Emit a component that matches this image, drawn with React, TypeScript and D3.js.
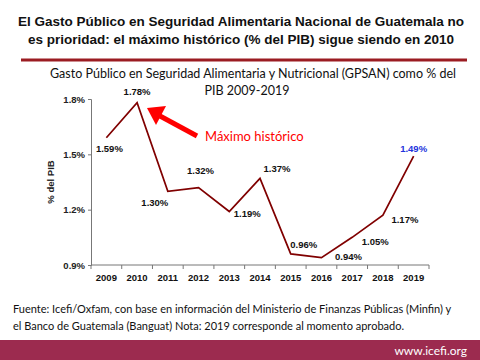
import React from 'react';
import * as d3 from 'd3';

const width = 480;
const height = 360;
const margin = {top: 99, right: 51, bottom: 95, left: 91};
const maroon = '#800000';
const headRed = '#9b1c22';
const band = '#9c2b4f';

const years = ['2009', '2010', '2011', '2012', '2013', '2014', '2015', '2016', '2017', '2018', '2019'];
const gpsan = [1.59, 1.78, 1.30, 1.32, 1.19, 1.37, 0.96, 0.94, 1.05, 1.17, 1.49];
const yTicks = [0.9, 1.2, 1.5, 1.8];
// where each value label sits relative to its point
const labelOffsets = [[3, 14], [0, -8], [-13, 15], [2, -14], [18, 5], [17, -6], [13, -6], [27, 2], [23, 8], [22, 8], [0, -4]];

const titleLines = [
  'El Gasto Público en Seguridad Alimentaria Nacional de Guatemala no',
  'es prioridad: el máximo histórico (% del PIB) sigue siendo en 2010',
];
const subtitleLines = [
  'Gasto Público en Seguridad Alimentaria y Nutricional (GPSAN) como % del',
  'PIB 2009-2019',
];
const sourceLines = [
  'Fuente: Icefi/Oxfam, con base en información del Ministerio de Finanzas Públicas (Minfin) y',
  'el Banco de Guatemala (Banguat) Nota: 2019 corresponde al momento aprobado.',
];

const bodyFont = 'Lato, "Open Sans", sans-serif';
const chartFont = '"Liberation Sans", Arial, sans-serif';

export default function App() {
  const xAxisRef = React.useRef<SVGGElement>(null);
  const yAxisRef = React.useRef<SVGGElement>(null);

  const xScale = d3.scaleBand().domain(years).range([margin.left, width - margin.right]);
  const yScale = d3.scaleLinear().domain([0.9, 1.8]).range([height - margin.bottom, margin.top]);
  const cx = (y: string) => (xScale(y) as number) + xScale.bandwidth() / 2;

  const line = d3.line<number>()
    .x((d, i) => cx(years[i]))
    .y(d => yScale(d));

  React.useEffect(() => {
    const xa = d3.select(xAxisRef.current);
    xa.selectAll('*').remove();
    xa.append('line').attr('x1', margin.left).attr('x2', width - margin.right).attr('stroke', '#777');
    const edges = [...years.map(y => xScale(y) as number), width - margin.right];
    xa.selectAll('line.tick').data(edges).enter().append('line')
      .attr('class', 'tick').attr('x1', d => d).attr('x2', d => d).attr('y1', 0).attr('y2', 4).attr('stroke', '#777');
    xa.selectAll('text').data(years).enter().append('text')
      .attr('x', d => cx(d)).attr('y', 16).attr('text-anchor', 'middle')
      .attr('font-size', 9.5).attr('font-weight', 'bold').attr('font-family', chartFont).attr('fill', '#111')
      .text(d => d);

    const yAxis = d3.axisLeft(yScale).tickValues(yTicks).tickSize(3).tickPadding(3)
      .tickFormat(d => `${(d as number).toFixed(1)}%`);
    const ya = d3.select(yAxisRef.current).call(yAxis);
    ya.select('.domain').attr('stroke', '#777');
    ya.selectAll('.tick line').attr('stroke', '#777');
    ya.selectAll('.tick text').attr('font-size', 9.5).attr('font-weight', 'bold')
      .attr('font-family', chartFont).attr('fill', '#222');
  }, []);

  return (
    <svg width={width} height={height} style={{position: 'absolute', left: 0, top: 0, background: '#fff'}}>
      {titleLines.map((t, i) => (
        <text key={t} x={241} y={26 + i * 18} textAnchor="middle" fontFamily={chartFont}
          fontWeight="bold" fontSize={13.5} fill="#111">{t}</text>
      ))}
      <line x1={21} x2={467} y1={60} y2={60} stroke={headRed} strokeWidth={3} />
      {subtitleLines.map((t, i) => (
        <text key={t} x={i === 0 ? 253 : 247} y={78 + i * 17} textAnchor="middle" fontFamily={bodyFont}
          fontSize={12.5} fill="#111">{t}</text>
      ))}

      <g ref={xAxisRef} transform={`translate(0, ${height - margin.bottom})`} />
      <g ref={yAxisRef} transform={`translate(${margin.left}, 0)`} />
      <text transform={`translate(54, ${(margin.top + height - margin.bottom) / 2}) rotate(-90)`}
        textAnchor="middle" fontFamily={chartFont} fontWeight="bold" fontSize={9.5} fill="#222">% del PIB</text>

      <path d={line(gpsan) ?? ''} fill="none" stroke={maroon} strokeWidth={1.7} strokeLinejoin="miter" />
      {gpsan.map((v, i) => (
        <text key={years[i]} x={cx(years[i]) + labelOffsets[i][0]} y={yScale(v) + labelOffsets[i][1]}
          textAnchor="middle" fontFamily={chartFont} fontWeight="bold" fontSize={9.5}
          fill={i === gpsan.length - 1 ? '#2233dd' : '#111'}>{`${v.toFixed(2)}%`}</text>
      ))}

      <line x1={197} y1={136} x2={160} y2={116} stroke="#ff0000" strokeWidth={5} />
      <path d="M147,108 L166,106 L156,125 Z" fill="#ff0000" />
      <text x={205} y={141} fontFamily={bodyFont} fontSize={13} fill="#ff0000">Máximo histórico</text>

      {sourceLines.map((t, i) => (
        <text key={t} x={13} y={313 + i * 17} fontFamily={bodyFont} fontSize={11} fill="#111">{t}</text>
      ))}
      <rect x={0} y={340} width={width} height={20} fill={band} />
      <text x={467} y={355} textAnchor="end" fontFamily={bodyFont} fontSize={12} fill="#fff">www.icefi.org</text>
    </svg>
  );
}
